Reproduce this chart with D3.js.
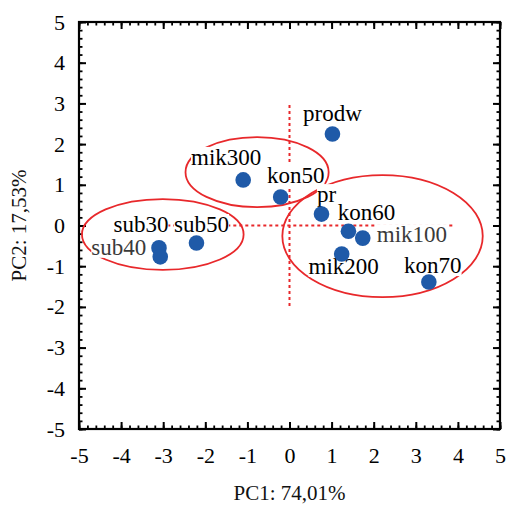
<!DOCTYPE html>
<html>
<head>
<meta charset="utf-8">
<script src="https://cdn.jsdelivr.net/npm/d3@7"></script>
<style>
  body { margin: 0; background: #fff; }
</style>
</head>
<body>
<div id="chart"></div>
<script>
var w = 506;
var h = 505;
var margin = {top: 22, right: 6, bottom: 76, left: 79};
var serif = "'Liberation Serif', 'Times New Roman', serif";

// samples (PC1, PC2 scores)
var names = ["prodw", "mik300", "kon50", "pr", "kon60", "mik100", "mik200", "kon70", "sub50", "sub30", "sub40"];
var pc1 = [1.02, -1.10, -0.21, 0.76, 1.40, 1.74, 1.24, 3.31, -2.21, -3.10, -3.07];
var pc2 = [2.25, 1.12, 0.70, 0.28, -0.14, -0.31, -0.70, -1.39, -0.43, -0.55, -0.77];

// group ellipses: centre and half-axes in PC units
var groupCx = [-3.01, -0.77, 2.21];
var groupCy = [-0.22, 1.31, -0.26];
var groupRx = [1.92, 1.70, 2.38];
var groupRy = [0.87, 0.86, 1.50];

var ticks = [-5, -4, -3, -2, -1, 0, 1, 2, 3, 4, 5];
var xTitle = "PC1: 74,01%";
var yTitle = "PC2: 17,53%";

// label placement (pixels from the point)
var labelPos = {
  "prodw":  {dx: 0,   dy: -13, anchor: "middle"},
  "mik300": {dx: -17, dy: -15, anchor: "middle"},
  "kon50":  {dx: 15,  dy: -14, anchor: "middle"},
  "pr":     {dx: 5,   dy: -12, anchor: "middle"},
  "kon60":  {dx: 18,  dy: -11, anchor: "middle"},
  "mik100": {dx: 14,  dy: 4,   anchor: "start"},
  "mik200": {dx: 2,   dy: 20,  anchor: "middle"},
  "kon70":  {dx: 4,   dy: -9,  anchor: "middle"},
  "sub50":  {dx: 5,   dy: -11, anchor: "middle"},
  "sub30":  {dx: -18, dy: -16, anchor: "middle"},
  "sub40":  {dx: -14, dy: -2,  anchor: "end"}
};
var greyLabels = ["sub40", "mik100"];

var red = "#e8282b";
var blue = "#1f5aa8";

var svg = d3.select("#chart").append("svg")
  .attr("width", w)
  .attr("height", h);

var iw = w - margin.left - margin.right;
var ih = h - margin.top - margin.bottom;

var x = d3.scaleLinear().domain([-5, 5]).range([margin.left, margin.left + iw]);
var y = d3.scaleLinear().domain([-5, 5]).range([margin.top + ih, margin.top]);

var minor = d3.range(-5, 5.001, 0.2).map(function(d) { return Math.round(d * 10) / 10; });

function styleAxis(g) {
  g.select(".domain").remove();
  g.selectAll(".tick line").attr("stroke", "#000").attr("stroke-width", 2);
  g.selectAll("text").attr("font-size", 22).attr("fill", "#000")
    .style("font-family", serif);
}

// minor ticks on all four sides
[["bottom", d3.axisBottom(x), margin.top + ih], ["top", d3.axisTop(x), margin.top],
 ["left", d3.axisLeft(y), margin.left], ["right", d3.axisRight(y), margin.left + iw]].forEach(function(a) {
  var g = svg.append("g");
  if (a[0] == "bottom" || a[0] == "top") g.attr("transform", "translate(0," + a[2] + ")");
  else g.attr("transform", "translate(" + a[2] + ",0)");
  g.call(a[1].tickValues(minor).tickSize(-3.5));
  styleAxis(g);
  g.selectAll("text").remove();
  g.selectAll(".tick line").attr("stroke-width", 1.8);
});

// major ticks
svg.append("g")
  .attr("transform", "translate(0," + (margin.top + ih) + ")")
  .call(d3.axisBottom(x).tickValues(ticks).tickSize(-7).tickPadding(18).tickFormat(function(d) { return String(d); }))
  .call(styleAxis);
svg.append("g")
  .attr("transform", "translate(" + margin.left + ",0)")
  .call(d3.axisLeft(y).tickValues(ticks).tickSize(-7).tickPadding(14).tickFormat(function(d) { return String(d); }))
  .call(styleAxis);
[["top", d3.axisTop(x), margin.top], ["right", d3.axisRight(y), margin.left + iw]].forEach(function(a) {
  var g = svg.append("g");
  if (a[0] == "top") g.attr("transform", "translate(0," + a[2] + ")");
  else g.attr("transform", "translate(" + a[2] + ",0)");
  g.call(a[1].tickValues(ticks).tickSize(-7));
  styleAxis(g);
  g.selectAll("text").remove();
});

// frame
svg.append("rect")
  .attr("x", margin.left).attr("y", margin.top)
  .attr("width", iw).attr("height", ih)
  .attr("fill", "none").attr("stroke", "#000").attr("stroke-width", 2.2);

// dashed origin lines
svg.append("line")
  .attr("x1", x(0)).attr("x2", x(0))
  .attr("y1", y(2.96)).attr("y2", y(-2.0))
  .attr("stroke", red).attr("stroke-width", 2).attr("stroke-dasharray", "3,3");
svg.append("line")
  .attr("x1", x(-3.9)).attr("x2", x(3.93))
  .attr("y1", y(0)).attr("y2", y(0))
  .attr("stroke", red).attr("stroke-width", 2).attr("stroke-dasharray", "3,3");

// group ellipses
svg.selectAll(".grp")
  .data(groupCx)
  .enter()
  .append("ellipse")
  .attr("class", "grp")
  .attr("cx", function(d) { return x(d); })
  .attr("cy", function(d, i) { return y(groupCy[i]); })
  .attr("rx", function(d, i) { return x(groupRx[i]) - x(0); })
  .attr("ry", function(d, i) { return y(0) - y(groupRy[i]); })
  .attr("fill", "none")
  .attr("stroke", red)
  .attr("stroke-width", 1.8);

// labels with white backing
var lab = svg.selectAll(".lab")
  .data(names)
  .enter()
  .append("g")
  .attr("class", "lab");

lab.append("rect").attr("fill", "#fff");
lab.append("text")
  .attr("x", function(d, i) { return x(pc1[i]) + labelPos[d].dx; })
  .attr("y", function(d, i) { return y(pc2[i]) + labelPos[d].dy; })
  .attr("text-anchor", function(d) { return labelPos[d].anchor; })
  .style("font-family", serif)
  .attr("font-size", 23)
  .attr("fill", function(d) { return greyLabels.indexOf(d) >= 0 ? "#3a3a3a" : "#000"; })
  .text(function(d) { return d; });

lab.each(function() {
  var t = d3.select(this).select("text").node().getBBox();
  d3.select(this).select("rect")
    .attr("x", t.x).attr("y", t.y + 2)
    .attr("width", t.width).attr("height", t.height - 4);
});

// points
svg.selectAll(".pt")
  .data(names)
  .enter()
  .append("circle")
  .attr("class", "pt")
  .attr("cx", function(d, i) { return x(pc1[i]); })
  .attr("cy", function(d, i) { return y(pc2[i]); })
  .attr("r", 7.8)
  .attr("fill", blue);

// axis titles
svg.append("text")
  .attr("x", x(0))
  .attr("y", 500)
  .attr("text-anchor", "middle")
  .style("font-family", serif)
  .attr("font-size", 21)
  .attr("fill", "#111")
  .text(xTitle);

svg.append("text")
  .attr("transform", "translate(26," + y(0) + ") rotate(-90)")
  .attr("text-anchor", "middle")
  .style("font-family", serif)
  .attr("font-size", 21)
  .attr("fill", "#111")
  .text(yTitle);
</script>
</body>
</html>
